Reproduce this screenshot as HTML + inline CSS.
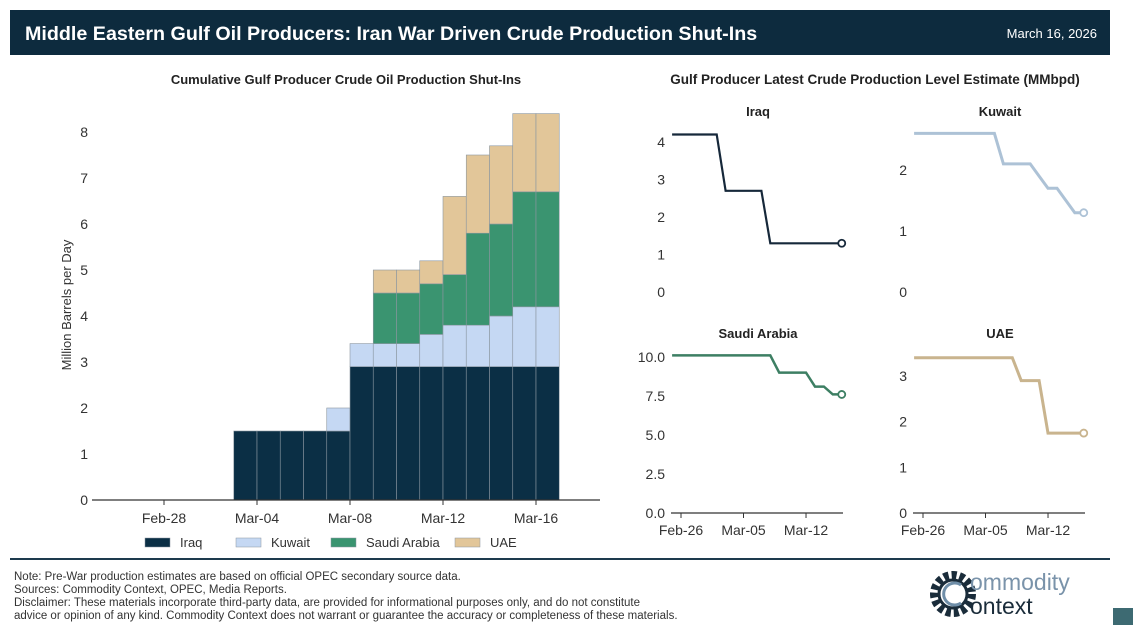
<!DOCTYPE html>
<html><head><meta charset="utf-8">
<style>
body{margin:0;background:#fff;font-family:"Liberation Sans",sans-serif;}
#wrap{position:relative;width:1133px;height:625px;overflow:hidden;background:#fff}
</style></head>
<body>
<div id="wrap">
<svg id="svg" width="1133" height="625" xmlns="http://www.w3.org/2000/svg" font-family="Liberation Sans, sans-serif">
<rect x="10" y="10" width="1100" height="45" fill="#0d2b3e"/>
<text x="25" y="40" fill="#fff" font-size="19.7" font-weight="bold">Middle Eastern Gulf Oil Producers: Iran War Driven Crude Production Shut-Ins</text>
<text x="1097" y="38" fill="#fff" font-size="13" text-anchor="end">March 16, 2026</text>
<text x="346" y="84" font-size="13" font-weight="bold" fill="#222" text-anchor="middle">Cumulative Gulf Producer Crude Oil Production Shut-Ins</text>
<text x="875" y="84" font-size="13.5" font-weight="bold" fill="#222" text-anchor="middle">Gulf Producer Latest Crude Production Level Estimate (MMbpd)</text>
<text transform="translate(71,305) rotate(-90)" font-size="13" fill="#333" text-anchor="middle">Million Barrels per Day</text>
<g id="main"></g>
<g id="panels"></g>
<line x1="10" y1="559" x2="1110" y2="559" stroke="#1d3a4e" stroke-width="2"/>
<g font-size="11.5" fill="#333">
<text x="14" y="580">Note: Pre-War production estimates are based on official OPEC secondary source data.</text>
<text x="14" y="593">Sources: Commodity Context, OPEC, Media Reports.</text>
<text x="14" y="606">Disclaimer: These materials incorporate third-party data, are provided for informational purposes only, and do not constitute</text>
<text x="14" y="619">advice or opinion of any kind. Commodity Context does not warrant or guarantee the accuracy or completeness of these materials.</text>
</g>
<g>
<circle cx="953" cy="594" r="19" fill="none" stroke="#1a2c3a" stroke-width="8" stroke-dasharray="5 3"/>
<circle cx="953" cy="594" r="14" fill="#fff" stroke="#1a2c3a" stroke-width="3"/>
<path d="M961 585 A11 11 0 1 0 961 603" fill="none" stroke="#6f8ea8" stroke-width="3"/>
<text x="970" y="590" font-size="23" fill="#7a93aa">ommodity</text>
<text x="970" y="614" font-size="23" fill="#1a2c3a">ontext</text>
</g>
<rect x="1113" y="608" width="20" height="17" fill="#3d6a72"/>
</svg>
</div>
<script>
// ---- Main stacked bar data ----
const barDates = ["Mar-03","Mar-04","Mar-05","Mar-06","Mar-07","Mar-08","Mar-09","Mar-10","Mar-11","Mar-12","Mar-13","Mar-14","Mar-15","Mar-16"];
const barDayIndex = [3,4,5,6,7,8,9,10,11,12,13,14,15,16];
const iraqShut = [1.5,1.5,1.5,1.5,1.5,2.9,2.9,2.9,2.9,2.9,2.9,2.9,2.9,2.9];
const kuwaitShut = [0,0,0,0,0.5,0.5,0.5,0.5,0.7,0.9,0.9,1.1,1.3,1.3];
const saudiShut = [0,0,0,0,0,0,1.1,1.1,1.1,1.1,2.0,2.0,2.5,2.5];
const uaeShut = [0,0,0,0,0,0,0.5,0.5,0.5,1.7,1.7,1.7,1.7,1.7];
const mainYTicks = [0,1,2,3,4,5,6,7,8];
const mainXTickLabels = ["Feb-28","Mar-04","Mar-08","Mar-12","Mar-16"];
const mainXTickDays = [0,4,8,12,16];
const seriesNames = ["Iraq","Kuwait","Saudi Arabia","UAE"];
const seriesColors = ["#0b2f45","#c5d8f3","#3a9470","#e2c699"];

// ---- Panel data (days since Feb-26, from -1 to 18) ----
const panelDays = [-1,0,1,2,3,4,5,6,7,8,9,10,11,12,13,14,15,16,17,18];
const iraqLevel = [4.2,4.2,4.2,4.2,4.2,4.2,2.7,2.7,2.7,2.7,2.7,1.3,1.3,1.3,1.3,1.3,1.3,1.3,1.3,1.3];
const kuwaitLevel = [2.6,2.6,2.6,2.6,2.6,2.6,2.6,2.6,2.6,2.6,2.1,2.1,2.1,2.1,1.9,1.7,1.7,1.5,1.3,1.3];
const saudiLevel = [10.1,10.1,10.1,10.1,10.1,10.1,10.1,10.1,10.1,10.1,10.1,10.1,9.0,9.0,9.0,9.0,8.1,8.1,7.6,7.6];
const uaeLevel = [3.4,3.4,3.4,3.4,3.4,3.4,3.4,3.4,3.4,3.4,3.4,3.4,2.9,2.9,2.9,1.75,1.75,1.75,1.75,1.75];
const panelXTickLabels = ["Feb-26","Mar-05","Mar-12"];
const panelXTickDays = [0,7,14];
const iraqTicks = [0,1,2,3,4];
const kuwaitTicks = [0,1,2];
const saudiTicks = [0,2.5,5,7.5,10];
const uaeTicks = [0,1,2,3];

const NS="http://www.w3.org/2000/svg";
function mk(tag,attrs,parent,text){const e=document.createElementNS(NS,tag);for(const k in attrs)e.setAttribute(k,attrs[k]);if(text!==undefined)e.textContent=text;parent.appendChild(e);return e;}

const main=document.getElementById('main');
const DW=23.25;
const mx=d=>164+DW*d;
const my=v=>500-46*v;
const stacks=[iraqShut,kuwaitShut,saudiShut,uaeShut];
barDates.forEach((lab,i)=>{
  const d=barDayIndex[i];
  let base=0;
  stacks.forEach((s,si)=>{
    const v=s[i]; if(v<=0) return;
    const r=mk('rect',{x:mx(d-1),y:my(base+v),width:DW,height:my(base)-my(base+v),fill:seriesColors[si],stroke:'#8a96a0','stroke-width':0.6},main);
    
    
    base+=v;
  });
});
main.setAttribute('transform','translate('+DW+',0)');
const mainAxes=mk('g',{},document.getElementById('svg'));
mk('line',{x1:92,y1:500,x2:600,y2:500,stroke:'#333','stroke-width':1.2},mainAxes);
mainYTicks.forEach(t=>{
  const e=mk('text',{x:88,y:my(t)+5,'font-size':14,fill:'#333','text-anchor':'end'},mainAxes,String(t));
  
  
});
mainXTickLabels.forEach((l,i)=>{
  const x=mx(mainXTickDays[i]);
  mk('line',{x1:x,y1:500,x2:x,y2:505,stroke:'#333'},mainAxes);
  const e=mk('text',{x:x,y:523,'font-size':14,fill:'#333','text-anchor':'middle'},mainAxes,l);
  
  
});
const legX=[145,236,331,455];
seriesNames.forEach((n,i)=>{
  const g=mk('g',{},mainAxes);
  
  
  mk('rect',{x:legX[i],y:538,width:25,height:9,fill:seriesColors[i],stroke:'#8a96a0','stroke-width':0.5},g);
  mk('text',{x:legX[i]+35,y:547,'font-size':13,fill:'#333'},g,n);
});

const panels=document.getElementById('panels');
function panel(name,vals,ticks,color,ox,oy0,yTop,vTop,showX,tickFmt,lw,titleY){
  const g=mk('g',{},panels);
  
  
  const px=d=>ox+8.93*d;
  const py=v=>oy0-(oy0-yTop)*v/vTop;
  mk('text',{x:ox+77,y:titleY,'font-size':13,'font-weight':'bold',fill:'#222','text-anchor':'middle'},g,name);
  ticks.forEach(t=>{
    mk('text',{x:ox-16,y:py(t)+5,'font-size':14,fill:'#333','text-anchor':'end'},g,tickFmt(t));
  });
  if(showX){
    mk('line',{x1:ox-10,y1:oy0,x2:ox+162,y2:oy0,stroke:'#333','stroke-width':1.2},g);
    panelXTickLabels.forEach((l,i)=>{
      const x=px(panelXTickDays[i]);
      mk('line',{x1:x,y1:oy0,x2:x,y2:oy0+5,stroke:'#333'},g);
      mk('text',{x:x,y:oy0+22,'font-size':14,fill:'#333','text-anchor':'middle'},g,l);
    });
  }
  const pts=panelDays.map((d,i)=>px(d).toFixed(1)+','+py(vals[i]).toFixed(1)).join(' ');
  const pl=mk('polyline',{points:pts,fill:'none',stroke:color,'stroke-width':lw},g);
  
  
  const n=panelDays.length-1;
  const c=mk('circle',{cx:px(panelDays[n]),cy:py(vals[n]),r:3.5,fill:'#fff',stroke:color,'stroke-width':1.8},g);
  
  
}
const intFmt=t=>String(t), decFmt=t=>t.toFixed(1);
panel('Iraq',iraqLevel,iraqTicks,'#16283a',681,292,142,4,false,intFmt,2.2,116);
panel('Kuwait',kuwaitLevel,kuwaitTicks,'#adc2d6',923,292,170,2,false,intFmt,3,116);
panel('Saudi Arabia',saudiLevel,saudiTicks,'#3d7f63',681,513,357,10,true,decFmt,2.5,338);
panel('UAE',uaeLevel,uaeTicks,'#c9b48e',923,513,376,3,true,intFmt,3,338);
</script>
</body></html>
